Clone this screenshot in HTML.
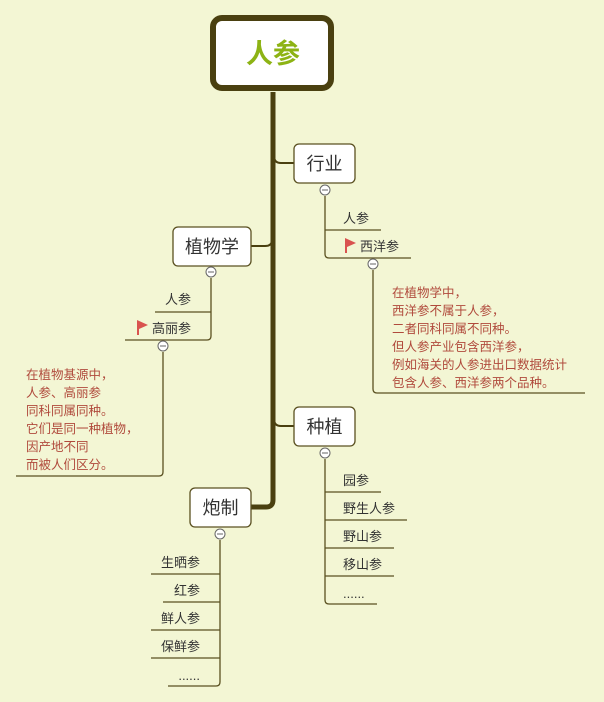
<!DOCTYPE html>
<html><head><meta charset="utf-8">
<style>
html,body{margin:0;padding:0;background:#f3f6d4;}
svg{display:block;}
text{font-family:"Liberation Sans","Noto Sans CJK SC",sans-serif;}
</style></head>
<body>
<svg width="604" height="702" viewBox="0 0 604 702" xmlns="http://www.w3.org/2000/svg">
<rect width="604" height="702" fill="#f3f6d4"/>
<path d="M273 92 V500 Q273 507 266 507 H251" fill="none" stroke="#4a4010" stroke-width="5"/>
<path d="M274 156 Q274 163 281 163 H294" fill="none" stroke="#4a4010" stroke-width="2"/>
<path d="M272 240 Q272 246 265 246 H251" fill="none" stroke="#4a4010" stroke-width="2"/>
<path d="M274 419 Q274 426 281 426 H294" fill="none" stroke="#4a4010" stroke-width="2"/>
<rect x="213" y="18" width="118" height="70" rx="9" fill="#fff" stroke="#4a4010" stroke-width="6"/>
<text x="273" y="63" font-size="27" font-weight="bold" fill="#8db314" text-anchor="middle">人参</text>
<g fill="#fff" stroke="#5a5020" stroke-width="1.3">
<rect x="294" y="144" width="61" height="39" rx="5"/>
<rect x="173" y="227" width="78" height="39" rx="5"/>
<rect x="294" y="407" width="61" height="39" rx="5"/>
<rect x="190" y="488" width="61" height="39" rx="5"/>
</g>
<g font-size="18" fill="#333" text-anchor="middle">
<text x="324.5" y="170">行业</text>
<text x="212" y="253">植物学</text>
<text x="324.5" y="433">种植</text>
<text x="220.5" y="514">炮制</text>
</g>
<g fill="none" stroke="#5a5020" stroke-width="1.3">
<path d="M325 196 V254 Q325 258 329 258 H411"/>
<path d="M325 230 H381"/>
<path d="M373 270 V389 Q373 393 377 393 H585"/>
<path d="M211 278 V336 Q211 340 207 340 H125"/>
<path d="M211 312 H155"/>
<path d="M163 352 V472 Q163 476 159 476 H16"/>
<path d="M325 459 V600 Q325 604 329 604 H377"/>
<path d="M325 492 H381 M325 520 H407 M325 548 H394 M325 576 H394"/>
<path d="M220 540 V682 Q220 686 216 686 H168"/>
<path d="M220 574 H151 M220 602 H163 M220 630 H151 M220 658 H151"/>
</g>
<g fill="#fff" stroke="#666" stroke-width="1">
<circle cx="325" cy="190" r="5"/><circle cx="373" cy="264" r="5"/>
<circle cx="211" cy="272" r="5"/><circle cx="163" cy="346" r="5"/>
<circle cx="325" cy="453" r="5"/><circle cx="220" cy="534" r="5"/>
</g>
<g stroke="#666" stroke-width="1">
<path d="M322 190h6M370 264h6M208 272h6M160 346h6M322 453h6M217 534h6"/>
</g>
<g fill="#d9534f">
<path d="M345 238 v15 h2 v-6 l9 -4 z"/>
<path d="M137 320 v15 h2 v-6 l9 -4 z"/>
</g>
<g font-size="13" fill="#333">
<text x="343" y="223">人参</text>
<text x="360" y="251">西洋参</text>
<text x="165" y="304">人参</text>
<text x="152" y="333">高丽参</text>
<text x="343" y="485">园参</text>
<text x="343" y="513">野生人参</text>
<text x="343" y="541">野山参</text>
<text x="343" y="569">移山参</text>
<text x="343" y="598">......</text>
</g>
<g font-size="13" fill="#333" text-anchor="end">
<text x="200" y="567">生晒参</text>
<text x="200" y="595">红参</text>
<text x="200" y="623">鲜人参</text>
<text x="200" y="651">保鲜参</text>
<text x="200" y="680">......</text>
</g>
<g font-size="12.5" fill="#b04a3c">
<text x="392" y="297">在植物学中，</text>
<text x="392" y="315">西洋参不属于人参，</text>
<text x="392" y="333">二者同科同属不同种。</text>
<text x="392" y="351">但人参产业包含西洋参，</text>
<text x="392" y="369">例如海关的人参进出口数据统计</text>
<text x="392" y="387">包含人参、西洋参两个品种。</text>
<text x="26" y="379">在植物基源中，</text>
<text x="26" y="397">人参、高丽参</text>
<text x="26" y="415">同科同属同种。</text>
<text x="26" y="433">它们是同一种植物，</text>
<text x="26" y="451">因产地不同</text>
<text x="26" y="469">而被人们区分。</text>
</g>
</svg>
</body></html>
